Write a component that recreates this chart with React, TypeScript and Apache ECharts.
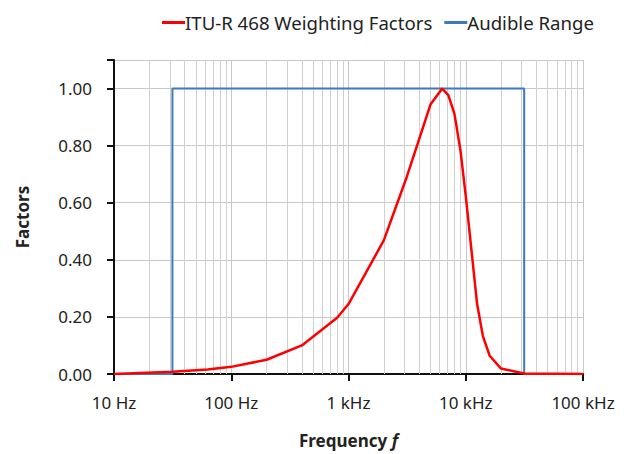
import React, { useEffect, useRef } from "react";
import * as echarts from "echarts";

const freqs = [10, 31.5, 63, 100, 200, 400, 800, 1000, 2000, 3150, 4000, 5000, 6300, 7100, 8000, 9000, 10000, 12500, 14000, 16000, 20000, 31500, 100000];
const weights = [0, 0.008, 0.016, 0.025, 0.05, 0.1, 0.197, 0.245, 0.468, 0.692, 0.822, 0.944, 1.0, 0.977, 0.912, 0.785, 0.624, 0.245, 0.133, 0.064, 0.019, 0.002, 0];

const audibleFreqs = [10, 31.5, 31.5, 31500, 31500, 100000];
const audibleVals = [0, 0, 1, 1, 0, 0];

const minorMultipliers = [2, 3, 4, 5, 6, 7, 8, 9];
const decades = [10, 100, 1000, 10000];

const tickLabels: Record<number, string> = {
  10: "10 Hz",
  100: "100 Hz",
  1000: "1 kHz",
  10000: "10 kHz",
  100000: "100 kHz",
};

const FONT = "'Noto Sans', sans-serif";

export default function App() {
  const ref = useRef<HTMLDivElement>(null);
  useEffect(() => {
    if (!ref.current) return;
    const chart = echarts.init(ref.current, undefined, { renderer: "svg" });
    const minorLines: any[] = [];
    decades.forEach((d) => minorMultipliers.forEach((m) => minorLines.push({ xAxis: d * m })));
    chart.setOption({
      animation: false,
      textStyle: { fontFamily: FONT, color: "#222" },
      legend: {
        top: 8,
        left: 157,
        itemWidth: 23,
        itemHeight: 3,
        itemGap: 12,
        data: [
          { name: "ITU-R 468 Weighting Factors", icon: "rect" },
          { name: "Audible Range", icon: "rect" },
        ],
        textStyle: { fontSize: 18.6, color: "#222", fontFamily: FONT, padding: [0, 0, 0, -5] },
      },
      grid: { left: 114, right: 52, top: 60, bottom: 73 },
      xAxis: {
        type: "log",
        logBase: 10,
        min: 10,
        max: 100000,
        name: "{a|Frequency }{b|f}",
        nameLocation: "middle",
        nameGap: 58,
        nameTextStyle: {
          rich: {
            a: { fontSize: 17, fontWeight: "bold", color: "#222", fontFamily: FONT },
            b: { fontSize: 17, fontWeight: "bold", fontStyle: "italic", color: "#222", fontFamily: FONT },
          },
        },
        axisLine: { lineStyle: { color: "#111", width: 2 } },
        axisTick: { show: true, length: 7, lineStyle: { color: "#111", width: 2 } },
        axisLabel: {
          fontSize: 17,
          color: "#222",
          margin: 20,
          formatter: (v: number) => tickLabels[Math.round(v)] ?? "",
        },
        splitLine: { show: true, lineStyle: { color: "#c8c8c8", width: 1 } },
      },
      yAxis: {
        type: "value",
        min: 0,
        max: 1.1,
        interval: 0.2,
        name: "Factors",
        nameLocation: "middle",
        nameGap: 83,
        nameRotate: 90,
        nameTextStyle: { fontSize: 17, fontWeight: "bold", color: "#222", fontFamily: FONT },
        axisLine: { show: true, lineStyle: { color: "#111", width: 2 } },
        axisTick: { show: true, length: 7, lineStyle: { color: "#111", width: 2 } },
        axisLabel: {
          fontSize: 17,
          color: "#222",
          margin: 22,
          formatter: (v: number) => (v > 1.05 ? "" : v.toFixed(2)),
        },
        splitLine: { show: true, lineStyle: { color: "#c8c8c8", width: 1 } },
      },
      series: [
        {
          name: "Audible Range",
          type: "line",
          data: audibleFreqs.map((f, i) => [f, audibleVals[i]]),
          showSymbol: false,
          symbol: "none",
          lineStyle: { color: "#3a7bbf", width: 2 },
          itemStyle: { color: "#3a7bbf" },
          z: 3,
          markLine: {
            silent: true,
            symbol: "none",
            label: { show: false },
            lineStyle: { color: "#d0d0d0", width: 1, type: "solid" },
            data: minorLines,
            z: 1,
          },
        },
        {
          name: "ITU-R 468 Weighting Factors",
          type: "line",
          data: freqs.map((f, i) => [f, weights[i]]),
          showSymbol: false,
          symbol: "none",
          lineStyle: { color: "#ff0000", width: 2.5 },
          itemStyle: { color: "#ff0000" },
          z: 4,
        },
      ],
    });
    return () => chart.dispose();
  }, []);
  return <div ref={ref} style={{ width: 635, height: 454, position: "absolute", left: 0, top: 0 }} />;
}
